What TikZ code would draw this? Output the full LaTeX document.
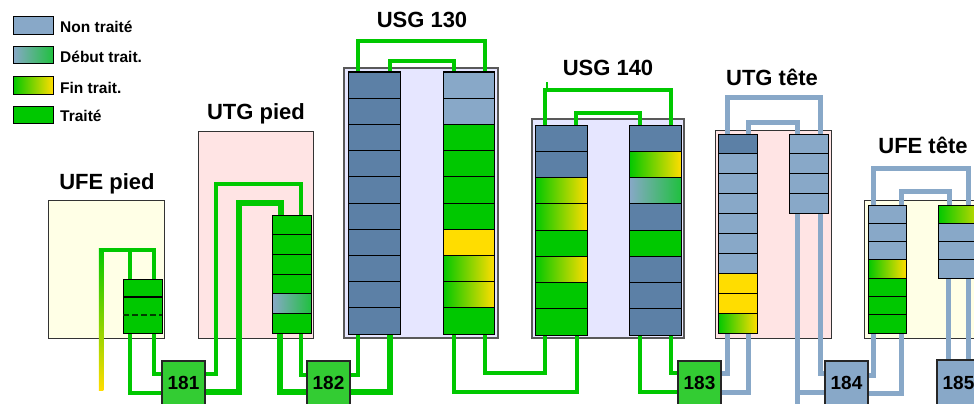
\documentclass[tikz,border=0pt]{standalone}
\usepackage{fontspec}
\setmainfont{Liberation Sans}
\definecolor{lb}{HTML}{88A8C8}
\definecolor{dk}{HTML}{5C80A6}
\definecolor{gr}{HTML}{00C800}
\definecolor{gb}{HTML}{20C040}
\definecolor{ye}{HTML}{FFDD00}
\definecolor{bx}{HTML}{33CC33}
\definecolor{lav}{HTML}{E6E6FF}
\definecolor{pnk}{HTML}{FFE4E4}
\definecolor{crm}{HTML}{FFFFE6}
\tikzset{
 blk/.style={draw=black, line width=1pt},
 bD/.style={fill=dk}, bL/.style={fill=lb}, bG/.style={fill=gr}, bY/.style={fill=ye},
 bF/.style={left color=gr, right color=ye},
 bB/.style={left color=lb, right color=gb},
 area/.style={draw=black!80, line width=1pt},
 usg/.style={draw=black!65, line width=1.6pt, fill=lav},
 gl/.style={draw=gr, line width=4.5pt},
 glt/.style={draw=gr, line width=6pt},
 bl/.style={draw=lb, line width=5pt},
 numbox/.style={draw=black!85, line width=1.2pt},
 ttl/.style={font=\bfseries\fontsize{22}{22}\selectfont, anchor=base, inner sep=0pt},
 lgd/.style={font=\bfseries\fontsize{15.5}{16}\selectfont, anchor=base west, inner sep=0pt},
 num/.style={font=\bfseries\fontsize{19}{19}\selectfont, anchor=base, inner sep=0pt},
}
\newcommand\stk[5]{\foreach \s [count=\i from 0] in {#5} {\path[blk,\s] (#1,{#3+\i*#4}) rectangle (#2,{#3+(\i+1)*#4});}}
\begin{document}
\begin{tikzpicture}[x=1pt,y=-1pt]
\useasboundingbox (0,0) rectangle (974,404);
\clip (0,0) rectangle (974,404);
\fill[white] (0,0) rectangle (974,404);
% legend
\path[blk,bL] (13,17) rectangle (53,35);
\path[blk,bB] (13,47) rectangle (53,64);
\path[blk,bF] (13,76) rectangle (53,94);
\path[blk,bG] (13,106) rectangle (53,123);
\node[lgd] (l1) at (60,33) {Non traité};
\node[lgd] (l2) at (60,63) {Début trait.};
\node[lgd] (l3) at (60,93) {Fin trait.};
\node[lgd] (l4) at (60,121) {Traité};
% areas
\path[area,fill=crm] (48,200) rectangle (164,338);
\path[area,fill=pnk] (198,131) rectangle (313,338);
\path[usg] (344,68) rectangle (498,338);
\path[usg] (532,119) rectangle (684,338);
\path[area,fill=pnk] (715,130) rectangle (831,338);
\path[area,fill=crm] (864,200) rectangle (990,338);
% titles
\node[ttl] (t1) at (107,189) {UFE pied};
\node[ttl] (t2) at (256,119) {UTG pied};
\node[ttl] (t3) at (422,28) {USG 130};
\node[ttl] (t4) at (608,75) {USG 140};
\node[ttl] (t5) at (772,85) {UTG tête};
\node[ttl] (t6) at (923,153) {UFE tête};
% UFE pied lines
\shade[top color=gr, bottom color=ye] (98.75,248) rectangle (103.25,390);
\draw[gl] (98.75,250) -- (154,250) -- (154,279);
\draw[gl] (130,250) -- (130,279);
\draw[gl] (130,333) |- (162,393);
\draw[gl] (154,333) |- (162,374);
% 181 -> UTG pied
\draw[gl] (205,374) -| (216,184) -| (301,215);
\draw[glt] (205,392) -| (239,203) -| (281,215);
\draw[glt] (280,333) |- (307,392);
\draw[gl] (301,333) |- (307,375);
% 182 -> USG130
\draw[gl] (350,375) -| (358,334);
\draw[glt] (350,392) -| (390,334);
\draw[gl] (358,72) |- (485,41) -- (485,72);
\draw[gl] (390,72) |- (454,61) -- (454,72);
% USG130 -> USG140
\draw[gl] (454,334) |- (577,392) -- (577,335);
\draw[gl] (485,334) |- (545,373) -- (545,335);
\draw[gl] (545,125) |- (671,90) -- (671,125);
\draw[draw=gr, line width=2.5pt] (547,82) -- (547,90);
\draw[gl] (576,125) |- (640,113) -- (640,125);
% USG140 -> 183
\draw[gl] (640,335) |- (678,392);
\draw[gl] (671,335) |- (678,373);
% UTG tete
\draw[bl] (721,373) -| (727,333);
\draw[bl] (721,392) -| (748,333);
\draw[bl] (727,134) |- (820,97) -- (820,134);
\draw[bl] (748,134) |- (797,122) -- (797,134);
\draw[bl] (797,213) -- (797,406);
\draw[bl] (797,392) -- (825,392);
\draw[bl] (820,213) |- (825,373);
% UFE tete
\draw[bl] (868,375) -| (873,333);
\draw[bl] (868,393) -| (901,333);
\draw[bl] (873,205) |- (968,168) -- (968,205);
\draw[bl] (901,205) |- (949,191) -- (949,205);
\draw[bl] (948,278) -- (948,360);
\draw[bl] (968,278) -- (968,360);
% stacks
\path[blk,bG] (123,279) rectangle (162,333);
\draw[black, line width=1.2pt] (123,297) -- (162,297);
\draw[black!70!gr, line width=1.2pt, dash pattern=on 6pt off 3pt] (123,315) -- (162,315);
\stk{272}{311}{215}{19.667}{bG,bG,bG,bG,bB,bG}
\stk{348}{400}{72}{26.2}{bD,bD,bD,bD,bD,bD,bD,bD,bD,bD}
\stk{443}{494}{72}{26.2}{bL,bL,bG,bG,bG,bG,bY,bF,bF,bG}
\stk{535}{587}{125}{26.25}{bD,bD,bF,bF,bG,bF,bG,bG}
\stk{629}{681}{125}{26.25}{bD,bF,bB,bD,bG,bD,bD,bD}
\stk{718}{757}{134}{19.9}{bD,bL,bL,bL,bL,bL,bL,bY,bY,bF}
\stk{789}{828}{134}{19.75}{bL,bL,bL,bL}
\stk{868}{906}{205}{18.286}{bL,bL,bL,bF,bG,bG,bG}
\stk{938}{990}{205}{18.3}{bF,bL,bL,bL}
% numbered boxes
\path[numbox,fill=bx] (162,361) rectangle (205,410);
\path[numbox,fill=bx] (307,361) rectangle (350,410);
\path[numbox,fill=bx] (678,361) rectangle (721,410);
\path[numbox,fill=lb] (825,361) rectangle (868,410);
\path[numbox,fill=lb] (937,360) rectangle (980,410);
\node[num] (b181) at (183.5,389) {181};
\node[num] (b182) at (328.5,389) {182};
\node[num] (b183) at (699.5,389) {183};
\node[num] (b184) at (846.5,389) {184};
\node[num] (b185) at (958.5,389) {185};
\end{tikzpicture}
\end{document}
